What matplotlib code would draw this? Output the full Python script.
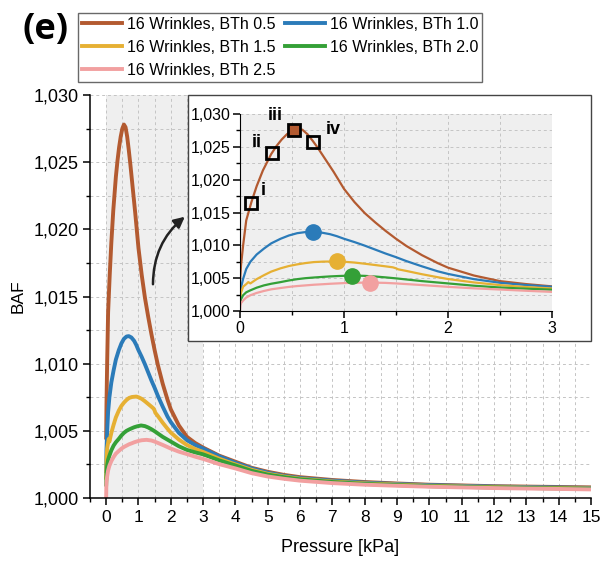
import numpy as np
import matplotlib.pyplot as plt
from matplotlib.ticker import MultipleLocator, FuncFormatter
from matplotlib.patches import Rectangle

plt.rcParams['font.family'] = ['Liberation Sans', 'DejaVu Sans']

labels = ['16 Wrinkles, BTh 0.5', '16 Wrinkles, BTh 1.0', '16 Wrinkles, BTh 1.5',
          '16 Wrinkles, BTh 2.0', '16 Wrinkles, BTh 2.5']
colors = ['#B35A30', '#2B7BB9', '#E6B033', '#34A037', '#F2A0A0']

# BAF readings (BAF - 1, in units of 1e-3) vs pressure in kPa
x_05 = [0, 0.01, 0.03, 0.06, 0.11, 0.16, 0.22, 0.30, 0.35, 0.40, 0.45, 0.50, 0.55, 0.60, 0.65,
        0.70, 0.75, 0.80, 0.90, 1.0, 1.1, 1.2, 1.3, 1.4, 1.5, 1.6, 1.75, 1.9, 2.0, 2.25, 2.5,
        2.75, 3.0, 3.5, 4, 4.5, 5, 5.5, 6, 7, 8, 9, 10, 12, 15]
y_05 = [4.5, 7.0, 10.0, 13.8, 16.6, 19.0, 21.4, 23.9, 25.1, 26.1, 26.9, 27.5, 27.8, 27.6, 26.9,
        25.9, 24.8, 23.6, 21.2, 18.6, 16.6, 14.9, 13.5, 12.2, 11.0, 9.9, 8.5, 7.3, 6.6, 5.4, 4.55,
        4.1, 3.75, 3.15, 2.7, 2.25, 1.95, 1.72, 1.55, 1.34, 1.19, 1.08, 0.99, 0.88, 0.79]

x_10 = [0, 0.01, 0.03, 0.06, 0.10, 0.16, 0.23, 0.30, 0.39, 0.47, 0.55, 0.63, 0.70, 0.78, 0.865,
        0.93, 1.0, 1.1, 1.2, 1.3, 1.4, 1.5, 1.6, 1.75, 1.9, 2.0, 2.25, 2.5, 2.75, 3.0, 3.5, 4,
        4.5, 5, 5.5, 6, 7, 8, 9, 10, 12, 15]
y_10 = [2.0, 3.6, 4.9, 6.4, 7.5, 8.6, 9.5, 10.3, 11.0, 11.5, 11.85, 12.02, 12.05, 11.95, 11.7,
        11.4, 11.0, 10.5, 9.95, 9.35, 8.75, 8.2, 7.6, 6.8, 6.05, 5.65, 4.85, 4.3, 3.95, 3.68, 3.1, 2.62,
        2.2, 1.88, 1.65, 1.48, 1.29, 1.14, 1.04, 0.96, 0.85, 0.75]

x_15 = [0, 0.01, 0.03, 0.06, 0.08, 0.10, 0.16, 0.23, 0.30, 0.39, 0.47, 0.55, 0.63, 0.71, 0.80,
        0.93, 1.0, 1.1, 1.2, 1.3, 1.4, 1.47, 1.5, 1.52, 1.6, 1.75, 1.9, 2.0, 2.25, 2.5, 2.75, 3.0,
        3.5, 4, 4.5, 5, 5.5, 6, 7, 8, 9, 10, 12, 15]
y_15 = [1.5, 2.8, 3.7, 4.1, 4.4, 4.2, 4.85, 5.45, 6.0, 6.5, 6.85, 7.1, 7.3, 7.45, 7.52,
        7.55, 7.5, 7.38, 7.2, 7.0, 6.8, 6.65, 6.5, 6.35, 6.1, 5.6, 5.15, 4.87, 4.35, 3.94, 3.65, 3.43,
        2.92, 2.5, 2.1, 1.8, 1.6, 1.43, 1.23, 1.09, 1.0, 0.91, 0.81, 0.71]

x_20 = [0, 0.01, 0.03, 0.06, 0.10, 0.16, 0.23, 0.30, 0.39, 0.47, 0.55, 0.63, 0.71, 0.80, 0.87,
        0.95, 1.08, 1.2, 1.3, 1.4, 1.5, 1.75, 2.0, 2.25, 2.5, 2.75, 3.0, 3.5, 4, 4.5, 5, 5.5, 6,
        7, 8, 9, 10, 12, 15]
y_20 = [1.0, 1.8, 2.4, 2.85, 3.15, 3.55, 3.9, 4.15, 4.4, 4.65, 4.85, 5.0, 5.1, 5.2, 5.27,
        5.33, 5.4, 5.35, 5.25, 5.12, 4.97, 4.55, 4.2, 3.85, 3.58, 3.4, 3.25, 2.8, 2.42, 2.02, 1.74, 1.55, 1.39,
        1.19, 1.05, 0.96, 0.88, 0.78, 0.68]

x_25 = [0, 0.005, 0.01, 0.03, 0.06, 0.10, 0.16, 0.23, 0.30, 0.39, 0.47, 0.55, 0.63, 0.71, 0.80,
        0.87, 1.0, 1.1, 1.25, 1.4, 1.5, 1.75, 2.0, 2.25, 2.5, 2.75, 3.0, 3.5, 4, 4.5, 5, 5.5, 6,
        7, 8, 9, 10, 12, 15]
y_25 = [0.0, 0.9, 1.2, 1.6, 2.05, 2.4, 2.75, 3.05, 3.3, 3.5, 3.67, 3.8, 3.9, 4.0, 4.08,
        4.15, 4.25, 4.3, 4.33, 4.28, 4.2, 3.95, 3.68, 3.45, 3.27, 3.08, 2.91, 2.52, 2.2, 1.85, 1.6, 1.43, 1.29,
        1.11, 0.99, 0.91, 0.84, 0.74, 0.64]

xs = [x_05, x_10, x_15, x_20, x_25]
ys = [y_05, y_10, y_15, y_20, y_25]

# marked states i-iv on the BTh 0.5 curve
sq_x = [0.11, 0.31, 0.52, 0.705]
sq_y = [16.5, 24.1, 27.6, 25.8]
sq_txt = ['i', 'ii', 'iii', 'iv']
sq_txt_pos = [(0.22, 18.4), (0.16, 25.7), (0.34, 29.8), (0.90, 27.6)]

# peaks of the other curves
pk_x = [0.70, 0.93, 1.08, 1.25]
pk_y = [12.05, 7.55, 5.4, 4.33]


def baf(v):
    return 1 + np.array(v) / 1000.0


comma = FuncFormatter(lambda v, p: ('%.3f' % v).replace('.', ','))
grid_kw = dict(color='#c4c4c4', linestyle=(0, (3, 3)), linewidth=0.7)

fig = plt.figure(figsize=(6.04, 5.64), dpi=100)
ax = fig.add_axes([90 / 604, 66 / 564, 501 / 604, 403 / 564])

ax.axvspan(0, 3, color='#efefef', zorder=0, lw=0)
for v in np.arange(0, 15.01, 0.5):
    ax.axvline(v, zorder=0.5, **grid_kw)
for v in np.arange(1.0025, 1.0301, 0.0025):
    ax.axhline(v, zorder=0.5, **grid_kw)

lines = []
for x, y, c, lab in zip(xs, ys, colors, labels):
    ln, = ax.plot(x, baf(y), color=c, lw=2.8, label=lab, solid_joinstyle='round', zorder=2)
    lines.append(ln)

ax.set_xlim(-0.5, 15)
ax.set_ylim(1.0, 1.030)
ax.xaxis.set_major_locator(MultipleLocator(1))
ax.xaxis.set_minor_locator(MultipleLocator(0.5))
ax.yaxis.set_major_locator(MultipleLocator(0.005))
ax.yaxis.set_minor_locator(MultipleLocator(0.0025))
ax.yaxis.set_major_formatter(comma)
ax.set_xticks(range(0, 16))
ax.tick_params(which='major', length=5, width=1.1, direction='out')
ax.tick_params(which='minor', length=3, width=1.0, direction='out')
ax.tick_params(axis='x', labelsize=12.5)
ax.tick_params(axis='y', labelsize=13, pad=3)
for s in ['top', 'right']:
    ax.spines[s].set_visible(False)
for s in ['left', 'bottom']:
    ax.spines[s].set_linewidth(1.1)
ax.set_xlabel('Pressure [kPa]', fontsize=13, labelpad=10)
ax.set_ylabel('BAF', fontsize=12.5, labelpad=6)

# inset frame and inset axes
fig.add_artist(Rectangle((188 / 604, 223 / 564), 403 / 604, 246 / 564, transform=fig.transFigure,
                         facecolor='white', edgecolor='#444444', lw=1.0, zorder=1))
ins = fig.add_axes([240 / 604, 253 / 564, 312 / 604, 197 / 564], zorder=3)
ins.set_facecolor('#efefef')
for v in np.arange(0.5, 3.01, 0.5):
    ins.axvline(v, zorder=0.5, **grid_kw)
for v in np.arange(1.0025, 1.0301, 0.0025):
    ins.axhline(v, zorder=0.5, **grid_kw)
for x, y, c in zip(xs, ys, colors):
    ins.plot(x, baf(y), color=c, lw=1.6, zorder=2)
for i in range(4):
    fc = colors[0] if i == 2 else 'none'
    ins.plot(sq_x[i], baf(sq_y[i]), marker='s', ms=9, mfc=fc, mec='black', mew=2, zorder=4)
    ins.text(sq_txt_pos[i][0], baf(sq_txt_pos[i][1]), sq_txt[i], fontsize=13, fontweight='bold',
             ha='center', va='center')
for i in range(4):
    ins.plot(pk_x[i], baf(pk_y[i]), marker='o', ms=11, color=colors[i + 1], zorder=4)
ins.set_xlim(0, 3)
ins.set_ylim(1.0, 1.030)
ins.xaxis.set_major_locator(MultipleLocator(1))
ins.xaxis.set_minor_locator(MultipleLocator(0.5))
ins.yaxis.set_major_locator(MultipleLocator(0.005))
ins.yaxis.set_minor_locator(MultipleLocator(0.0025))
ins.yaxis.set_major_formatter(comma)
ins.tick_params(which='major', length=5, width=1.1, labelsize=11.5, pad=2)
ins.tick_params(which='minor', length=3, width=1.0)
for s in ['top', 'right']:
    ins.spines[s].set_visible(False)

ax.annotate('', xy=(187, 349), xycoords='figure pixels', xytext=(153, 277), textcoords='figure pixels',
            arrowprops=dict(arrowstyle='-|>', color='#222222', lw=1.8, mutation_scale=16,
                            connectionstyle='arc3,rad=-0.25'))

fig.text(22 / 604, 1 - 30 / 564, '(e)', fontsize=26, fontweight='bold', va='center', ha='left',
         family=['Open Sans', 'DejaVu Sans'])

order = [0, 2, 4, 1, 3]
fig.legend(handles=[lines[i] for i in order], labels=[labels[i] for i in order],
           ncol=2, loc='upper left', bbox_to_anchor=(78 / 604, 1 - 13 / 564),
           frameon=True, fancybox=False, edgecolor='#444444', fontsize=11.5,
           handlelength=2.5, handletextpad=0.3, columnspacing=0.6, labelspacing=0.5,
           borderpad=0.25, borderaxespad=0)
fig.legends[0].get_frame().set_linewidth(1.0)

plt.savefig('out.png', dpi=100)
